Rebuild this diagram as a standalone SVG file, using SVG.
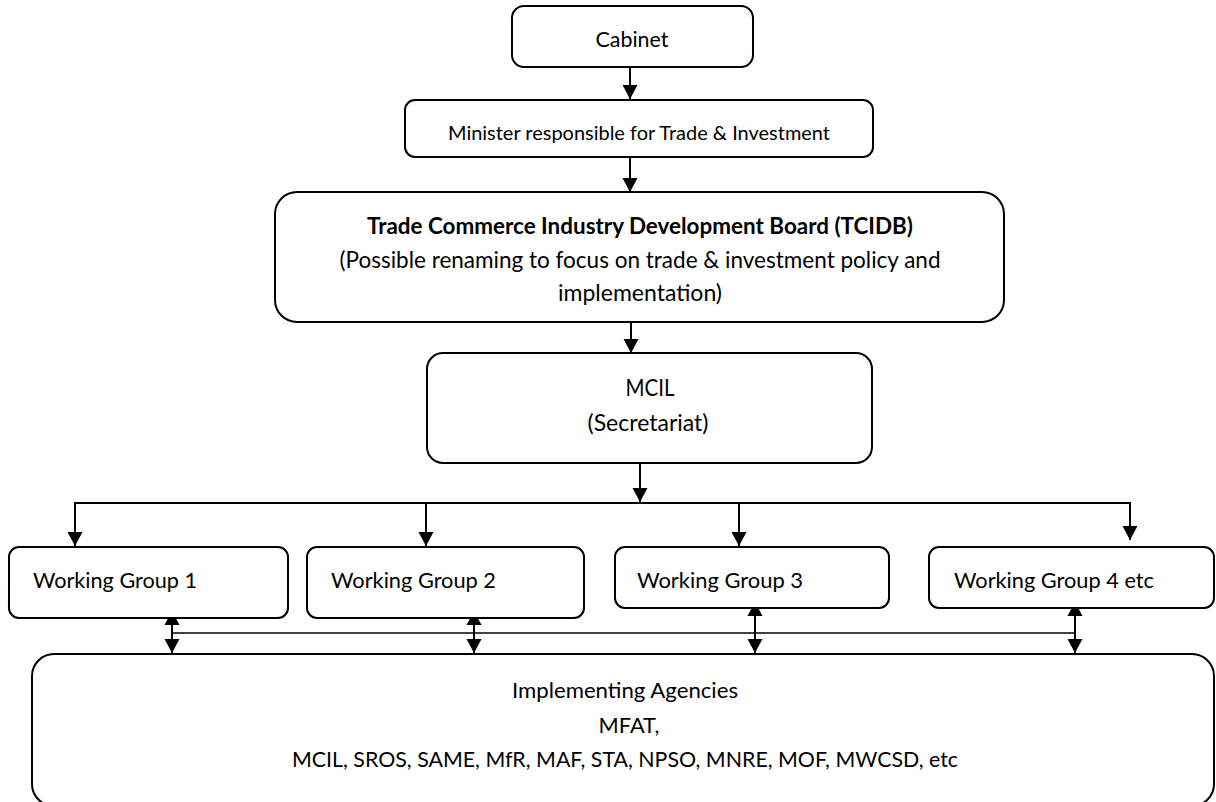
<svg xmlns="http://www.w3.org/2000/svg" width="1216" height="802" viewBox="0 0 1216 802">
<defs>
<style>
.box{fill:#fff;stroke:#000;stroke-width:2}
.t{font-family:Lato,"Liberation Sans",sans-serif;font-size:21.8px;fill:#000;text-anchor:middle}
.tl{font-family:Lato,"Liberation Sans",sans-serif;font-size:21.8px;fill:#000;text-anchor:start}
.sm{font-size:20px}
.b{font-weight:bold;font-size:22px}
.m{font-size:22.5px}
.c{fill:none;stroke:#000;stroke-width:2}
.thin{fill:none;stroke:#000;stroke-width:1.5}
</style>
<marker id="ah" markerUnits="userSpaceOnUse" markerWidth="16" markerHeight="16" viewBox="0 0 16 16" refX="14" refY="8" orient="auto">
<path d="M0,0.5 L14,8 L0,15.5 Z" fill="#000"/>
</marker>
<marker id="ahs" markerUnits="userSpaceOnUse" markerWidth="16" markerHeight="16" viewBox="0 0 16 16" refX="14" refY="8" orient="auto-start-reverse">
<path d="M0,0.5 L14,8 L0,15.5 Z" fill="#000"/>
</marker>
</defs>
<rect width="1216" height="802" fill="#fff"/>

<g id="connectors">
<line class="c" x1="630" y1="67" x2="630" y2="99" marker-end="url(#ah)"/>
<line class="c" x1="630" y1="157" x2="630" y2="192" marker-end="url(#ah)"/>
<line class="c" x1="631" y1="322" x2="631" y2="353" marker-end="url(#ah)"/>
<line class="c" x1="640" y1="463" x2="640" y2="502" marker-end="url(#ah)"/>
<line class="c" x1="75" y1="503" x2="1130" y2="503"/>
<line class="c" x1="75" y1="502" x2="75" y2="546" marker-end="url(#ah)"/>
<line class="c" x1="426" y1="503" x2="426" y2="546" marker-end="url(#ah)"/>
<line class="c" x1="739" y1="503" x2="739" y2="546" marker-end="url(#ah)"/>
<line class="c" x1="1130" y1="502" x2="1130" y2="540" marker-end="url(#ah)"/>
<line class="thin" x1="172" y1="633" x2="1075" y2="633"/>
<line class="c" x1="172" y1="611" x2="172" y2="653" marker-start="url(#ahs)" marker-end="url(#ah)"/>
<line class="c" x1="474" y1="611" x2="474" y2="653" marker-start="url(#ahs)" marker-end="url(#ah)"/>
<line class="c" x1="755" y1="602" x2="755" y2="653" marker-start="url(#ahs)" marker-end="url(#ah)"/>
<line class="c" x1="1075" y1="602" x2="1075" y2="653" marker-start="url(#ahs)" marker-end="url(#ah)"/>
</g>

<g id="cabinet">
<rect class="box" x="512" y="6" width="241" height="61" rx="12"/>
<text class="t" x="632" y="47" textLength="73" lengthAdjust="spacingAndGlyphs">Cabinet</text>
</g>

<g id="minister">
<rect class="box" x="405" y="100" width="468" height="57" rx="10"/>
<text class="t sm" x="639" y="140" textLength="382" lengthAdjust="spacingAndGlyphs">Minister responsible for Trade &amp; Investment</text>
</g>

<g id="tcidb">
<rect class="box" x="275" y="192" width="729" height="130" rx="22"/>
<text class="t b" x="640" y="234" textLength="546" lengthAdjust="spacingAndGlyphs">Trade Commerce Industry Development Board (TCIDB)</text>
<text class="t m" x="640" y="268" textLength="601" lengthAdjust="spacingAndGlyphs">(Possible renaming to focus on trade &amp; investment policy and</text>
<text class="t m" x="640" y="301" textLength="164" lengthAdjust="spacingAndGlyphs">implementation)</text>
</g>

<g id="mcil">
<rect class="box" x="427" y="353" width="445" height="110" rx="16"/>
<text class="t m" x="650" y="396" textLength="49" lengthAdjust="spacingAndGlyphs">MCIL</text>
<text class="t m" x="648" y="431" textLength="121" lengthAdjust="spacingAndGlyphs">(Secretariat)</text>
</g>

<g id="wg1">
<rect class="box" x="9" y="547" width="279" height="71" rx="10"/>
<text class="tl" x="33" y="588" textLength="164" lengthAdjust="spacingAndGlyphs">Working Group 1</text>
</g>
<g id="wg2">
<rect class="box" x="307" y="547" width="277" height="71" rx="10"/>
<text class="tl" x="331" y="588" textLength="165" lengthAdjust="spacingAndGlyphs">Working Group 2</text>
</g>
<g id="wg3">
<rect class="box" x="615" y="547" width="274" height="61" rx="10"/>
<text class="tl" x="637" y="588" textLength="166" lengthAdjust="spacingAndGlyphs">Working Group 3</text>
</g>
<g id="wg4">
<rect class="box" x="929" y="547" width="285" height="61" rx="10"/>
<text class="tl" x="954" y="588" textLength="200" lengthAdjust="spacingAndGlyphs">Working Group 4 etc</text>
</g>

<g id="agencies">
<rect class="box" x="32" y="654" width="1182" height="152" rx="22"/>
<text class="t" x="625" y="698" textLength="226" lengthAdjust="spacingAndGlyphs">Implementing Agencies</text>
<text class="t" x="629" y="733">MFAT,</text>
<text class="t" x="625" y="767" textLength="666" lengthAdjust="spacingAndGlyphs">MCIL, SROS, SAME, MfR, MAF, STA, NPSO, MNRE, MOF, MWCSD, etc</text>
</g>
</svg>
